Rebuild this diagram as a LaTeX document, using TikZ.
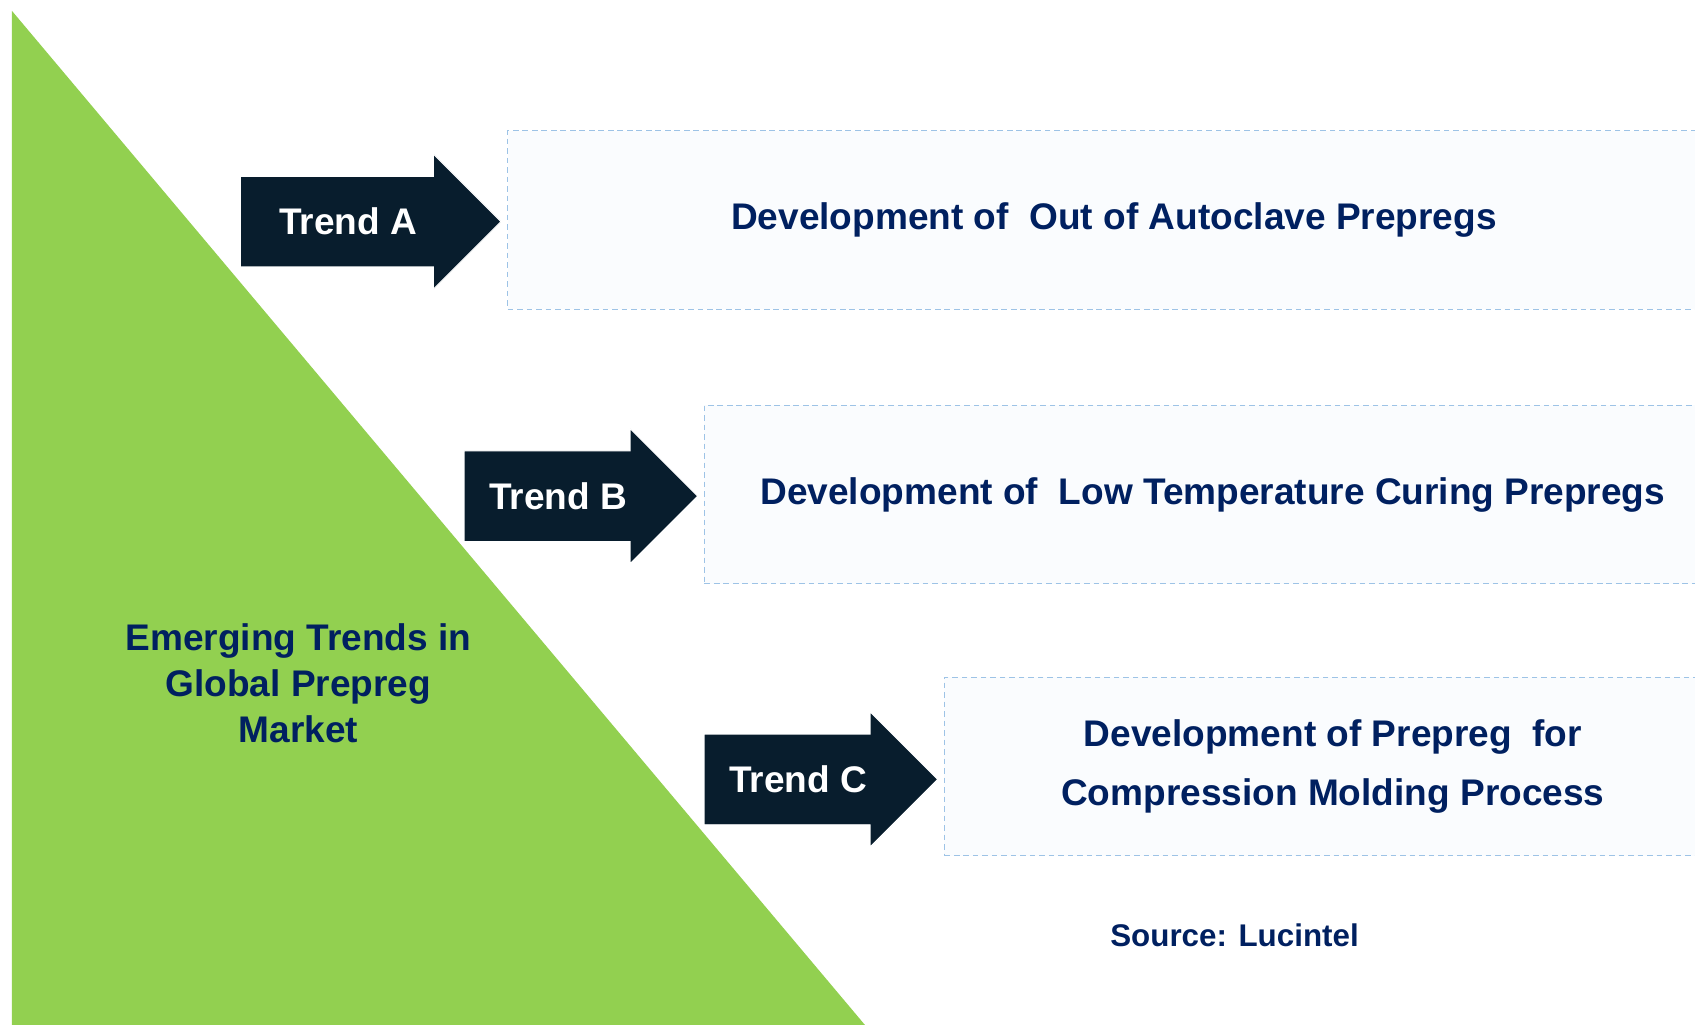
\documentclass[tikz,border=0pt]{standalone}
\usepackage{fontspec}
\setmainfont{Liberation Sans}
\usetikzlibrary{shapes,arrows,positioning}
\definecolor{navytext}{RGB}{0,32,96}
\definecolor{darkarrow}{RGB}{8,29,45}
\definecolor{leafgreen}{RGB}{146,208,80}
\definecolor{boxline}{RGB}{157,195,230}
\definecolor{boxfill}{RGB}{250,252,254}

\begin{document}
\begin{tikzpicture}[x=0.02cm, y=-0.02cm, node distance=0.1cm, font=\bfseries\fontsize{19.5}{24}\selectfont,
    trend/.style={single arrow, draw=white, line width=0.5pt, fill=darkarrow, text=white, minimum height=4.32cm, text height=1.07cm, text depth=0.59cm, inner ysep=0pt, inner xsep=0pt, single arrow head extend=0.41cm, anchor=tail},
    trendbox/.style={draw=boxline, dash pattern=on 3pt off 2pt, line width=0.6pt, fill=boxfill, text=navytext, minimum height=3.3cm, align=center}]
        \useasboundingbox (0,0) rectangle (1568,948);
        % green triangle
        \fill[leafgreen] (11,10) -- (800,948) -- (11,948) -- cycle;
        \node[text=navytext, align=center] (market) at (276,632) {Emerging Trends in\\Global Prepreg\\Market};

        \node[trend, minimum height=4.82cm] (arrA) at (222,205) {Trend A};
        \node[trend] (arrB) at (429,459) {Trend B};
        \node[trend] (arrC) at (651,721) {Trend C};

        \node[trendbox, minimum width=22.44cm, right=of arrA.tip, yshift=0.03cm] (boxA) {Development of\ \ Out of Autoclave Prepregs};
        \node[trendbox, minimum width=18.82cm, right=of arrB.tip, yshift=0.03cm] (boxB) {Development of\ \ Low Temperature Curing Prepregs};
        \node[trendbox, minimum width=14.38cm, right=of arrC.tip, yshift=0.24cm, font=\bfseries\fontsize{19.5}{31}\selectfont] (boxC) {Development of Prepreg\ \ for\\Compression Molding Process};

        \node[text=navytext, font=\bfseries\fontsize{16.5}{20}\selectfont] (source) at (1142,865) {Source: Lucintel};
\end{tikzpicture}
\end{document}
